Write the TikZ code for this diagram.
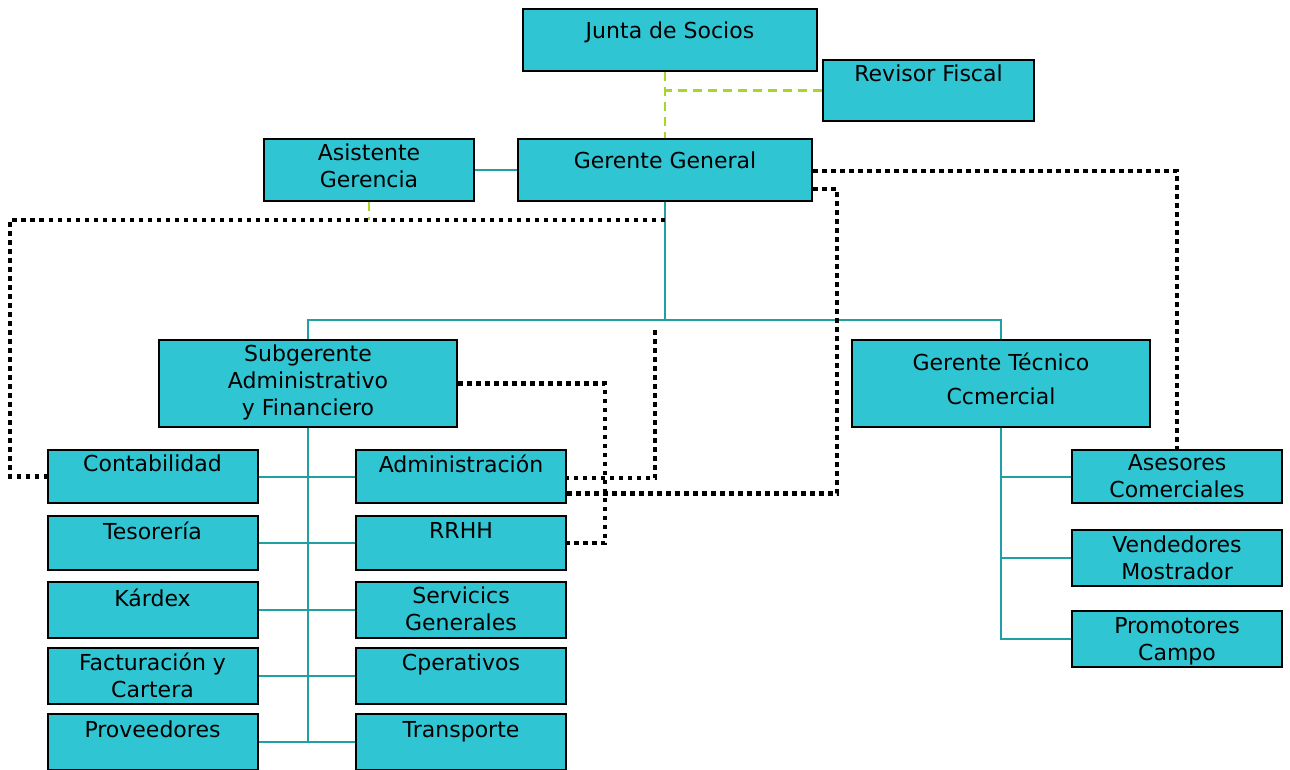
\documentclass[tikz,border=0pt]{standalone}
\usepackage{fontspec}
\setmainfont{DejaVu Sans}
\usetikzlibrary{positioning}
\definecolor{boxfill}{RGB}{48,197,210}
\definecolor{tealline}{RGB}{32,160,162}
\definecolor{auditgreen}{RGB}{168,214,40}
\begin{document}
\begin{tikzpicture}
[x=1pt,y=-1pt,
  unitbox/.style={shape=rectangle,draw=black,line width=2pt,fill=boxfill,inner sep=0pt,minimum width=210pt,minimum height=54pt},%
  bigbox/.style={unitbox,minimum width=294pt,minimum height=62pt},%
  boxlabel/.style={inner sep=0pt,align=center,font=\fontsize{22}{27}\selectfont},%
  orgline/.style={-,draw=tealline,line width=2pt},%
  auditline/.style={-,draw=auditgreen,line width=2.5pt,dash pattern=on 9pt off 6pt},%
  dotline/.style={-,draw=black,line width=4.5pt,dash pattern=on 4.5pt off 4.5pt}]
\useasboundingbox (0,0) rectangle (1290,769);
\clip (0,0) rectangle (1290,769);
% top level
\node (junta) at (670,40) [bigbox] {};
\node [boxlabel,below=14pt of junta.north] {Junta de Socios};
\node (revisor) at (928.5,90.5) [unitbox,minimum width=211pt,minimum height=61pt] {};
\node [boxlabel,below=6pt of revisor.north] {Revisor Fiscal};
\node (gerente) at (665,170) [bigbox] {};
\node [boxlabel,below=14pt of gerente.north] {Gerente General};
\node (asistente) at (369,170) [unitbox,minimum height=62pt] {};
\node [boxlabel,below=6pt of asistente.north] {Asistente\\Gerencia};
% second level
\node (subgerente) at (308,383.5) [unitbox,minimum width=298pt,minimum height=87pt] {};
\node [boxlabel,below=6pt of subgerente.north] {Subgerente\\Administrativo\\y Financiero};
\node (tecnico) at (1001,383.5) [unitbox,minimum width=298pt,minimum height=87pt] {};
\node [boxlabel,below=14pt of tecnico.north,font=\fontsize{22}{34}\selectfont] {Gerente Técnico\\Ccmercial};
% left column
\node (conta) at (152.5,476.5) [unitbox,minimum height=53pt] {};
\node [boxlabel,below=6pt of conta.north] {Contabilidad};
\node (teso) at (152.5,543) [unitbox] {};
\node [boxlabel,below=7pt of teso.north] {Tesorería};
\node (kardex) at (152.5,610) [unitbox,minimum height=56pt] {};
\node [boxlabel,below=8pt of kardex.north] {Kárdex};
\node (factura) at (152.5,676) [unitbox,minimum height=56pt] {};
\node [boxlabel,below=6pt of factura.north] {Facturación y\\Cartera};
\node (prov) at (152.5,742) [unitbox,minimum height=56pt] {};
\node [boxlabel,below=8pt of prov.north] {Proveedores};
% right column
\node (admin) at (461,476.5) [unitbox,minimum height=53pt] {};
\node [boxlabel,below=6pt of admin.north] {Administración};
\node (rrhh) at (461,543) [unitbox] {};
\node [boxlabel,below=7pt of rrhh.north] {RRHH};
\node (servicios) at (461,610) [unitbox,minimum height=56pt] {};
\node [boxlabel,below=6pt of servicios.north] {Servicics\\Generales};
\node (operativos) at (461,676) [unitbox,minimum height=56pt] {};
\node [boxlabel,below=7pt of operativos.north] {Cperativos};
\node (transporte) at (461,742) [unitbox,minimum height=56pt] {};
\node [boxlabel,below=8pt of transporte.north] {Transporte};
% commercial group
\node (asesores) at (1177,476.5) [unitbox,minimum height=53pt] {};
\node [boxlabel,below=5pt of asesores.north] {Asesores\\Comerciales};
\node (vendedores) at (1177,558) [unitbox,minimum height=56pt] {};
\node [boxlabel,below=7pt of vendedores.north] {Vendedores\\Mostrador};
\node (promotores) at (1177,639) [unitbox,minimum height=56pt] {};
\node [boxlabel,below=7pt of promotores.north] {Promotores\\Campo};
% helper points
\coordinate (bus) at (665,320);
\coordinate (ggdrop) at (665,220);
% edges or lines
\draw[auditline] (gerente.north |- junta.south) -- (gerente.north);
\draw[auditline] (revisor.west) -- (revisor.west -| gerente.north);
\draw[auditline] (asistente.south) -- (asistente.south |- ggdrop);
\draw[orgline] (asistente.east) -- (gerente.west);
\draw[orgline] (gerente.south) -- (bus);
\draw[orgline] (subgerente.north) |- (bus) -| (tecnico.north);
\draw[orgline] (subgerente.south) -- (subgerente.south |- prov.east);
\path
(conta) edge[orgline] (admin)
(teso) edge[orgline] (rrhh)
(kardex) edge[orgline] (servicios)
(factura) edge[orgline] (operativos)
(prov) edge[orgline] (transporte);
\draw[orgline] (tecnico.south) |- (asesores.west);
\draw[orgline] (tecnico.south) |- (vendedores.west);
\draw[orgline] (tecnico.south) |- (promotores.west);
% dotted links
\draw[dotline] (ggdrop) -- (10,220) |- (conta.west);
\draw[dotline] ([yshift=-1pt]gerente.east) -| (asesores.north);
\draw[dotline] ([yshift=-19pt]gerente.east) -| ([xshift=270pt,yshift=-17pt]admin.east) -- ([yshift=-17pt]admin.east);
\draw[dotline] (655,330) |- ([yshift=-1.5pt]admin.east);
\draw[dotline] (subgerente.east) -| ([xshift=38pt]rrhh.east) -- (rrhh.east);
\end{tikzpicture}
\end{document}
